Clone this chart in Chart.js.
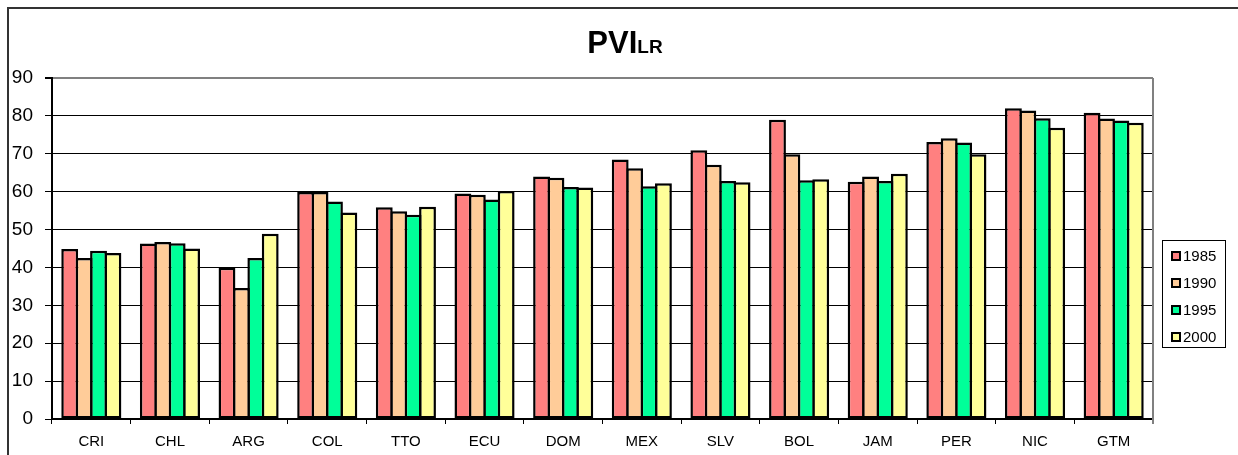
<!DOCTYPE html>
<html>
<head>
<meta charset="utf-8">
<script src="https://cdn.jsdelivr.net/npm/chart.js@4.4.1/dist/chart.umd.min.js"></script>
<style>
  html, body { margin: 0; padding: 0; background: #fff; }
  #wrap { position: relative; width: 1238px; height: 455px; overflow: hidden; font-family: "Liberation Sans", Arial, sans-serif; }
  #frame { position: absolute; left: 7px; top: 7px; width: 1240px; height: 460px; border-left: 2px solid #333; border-top: 2px solid #333; box-sizing: border-box; }
  #title { position: absolute; left: 0; width: 1250px; top: 25px; text-align: center; font-weight: bold; color: #000; white-space: nowrap; }
  #title .main { font-size: 31px; }
  #title .sub { font-size: 19px; }
  #legend { position: absolute; left: 1162px; top: 240px; width: 64px; height: 108px; border: 1px solid #000; box-sizing: border-box; background: #fff; }
  .li { position: absolute; left: 8px; height: 18px; font-size: 15px; line-height: 18px; color: #000; }
  .li .sw { position: absolute; left: 0; top: 4px; width: 10px; height: 10px; border: 2px solid #000; box-sizing: border-box; }
  .li .tx { position: absolute; left: 12px; top: 0; }
  canvas { position: absolute; left: 0; top: 0; }
</style>
</head>
<body>
<div id="wrap">
  <canvas id="c" width="1238" height="455"></canvas>
  <div id="frame"></div>
  <div id="title"><span class="main">PVI</span><span class="sub">LR</span></div>
  <div id="legend"></div>
</div>
<script>
const categories = ["CRI","CHL","ARG","COL","TTO","ECU","DOM","MEX","SLV","BOL","JAM","PER","NIC","GTM"];
const seriesNames = ["1985","1990","1995","2000"];
const v1985 = [44.9, 46.3, 39.9, 59.9, 55.9, 59.5, 64.0, 68.5, 70.9, 79.0, 62.6, 73.1, 82.0, 80.8];
const v1990 = [42.5, 46.7, 34.6, 59.9, 54.8, 59.2, 63.7, 66.2, 67.1, 69.9, 64.0, 74.1, 81.4, 79.3];
const v1995 = [44.4, 46.4, 42.5, 57.4, 53.9, 57.9, 61.2, 61.4, 62.8, 63.0, 62.8, 73.0, 79.4, 78.8];
const v2000 = [43.8, 45.0, 48.9, 54.5, 56.0, 60.2, 61.1, 62.2, 62.5, 63.3, 64.7, 69.9, 76.9, 78.2];
const yTicks = [0,10,20,30,40,50,60,70,80,90];
const seriesColors = ["#FF8080","#FFCC99","#00FF99","#FFFF99"];
const seriesValues = [v1985, v1990, v1995, v2000];

// HTML legend built from the series arrays
const leg = document.getElementById('legend');
seriesNames.forEach((n, i) => {
  const d = document.createElement('div');
  d.className = 'li';
  d.style.top = (6 + i * 27) + 'px';
  d.innerHTML = '<span class="sw" style="background:' + seriesColors[i] + '"></span><span class="tx">' + n + '</span>';
  leg.appendChild(d);
});

const plotBorder = {
  id: 'plotBorder',
  afterDatasetsDraw(chart) {
    const a = chart.chartArea, ctx = chart.ctx;
    ctx.save();
    ctx.strokeStyle = '#808080';
    ctx.lineWidth = 2;
    ctx.beginPath();
    ctx.moveTo(a.right, a.top);
    ctx.lineTo(a.right, a.bottom + 5);
    ctx.stroke();
    ctx.restore();
  }
};

new Chart(document.getElementById('c'), {
  type: 'bar',
  data: {
    labels: categories,
    datasets: seriesNames.map((n, i) => ({
      label: n,
      data: seriesValues[i],
      backgroundColor: seriesColors[i],
      borderColor: '#000',
      borderWidth: 2.5,
      borderSkipped: false,
      categoryPercentage: 0.733,
      barPercentage: 1.17
    }))
  },
  options: {
    responsive: false,
    animation: false,
    devicePixelRatio: 1,
    layout: { padding: { left: 0, right: 85, top: 78, bottom: 0 } },
    plugins: { legend: { display: false }, title: { display: false }, tooltip: { enabled: false } },
    scales: {
      x: {
        afterFit(s) { s.height = 36; },
        grid: { display: true, drawOnChartArea: false, drawTicks: true, tickLength: 5, tickColor: '#000', tickWidth: 1, offset: true },
        border: { display: true, color: '#000', width: 2 },
        ticks: { color: '#000', padding: 9, font: { family: '"Liberation Sans", Arial, sans-serif', size: 15 }, maxRotation: 0, autoSkip: false }
      },
      y: {
        min: 0, max: 90,
        afterFit(s) { s.width = 52; },
        afterBuildTicks(s) { s.ticks = yTicks.map(v => ({ value: v })); },
        grid: {
          color: (c) => c.tick && c.tick.value === 90 ? '#808080' : '#000',
          lineWidth: (c) => c.tick && c.tick.value === 90 ? 2 : 1,
          drawTicks: true, tickLength: 7, tickColor: '#000'
        },
        border: { display: true, color: '#000', width: 2 },
        ticks: { color: '#000', padding: 12, font: { family: '"Liberation Sans", Arial, sans-serif', size: 19 } }
      }
    }
  },
  plugins: [plotBorder]
});
</script>
</body>
</html>
